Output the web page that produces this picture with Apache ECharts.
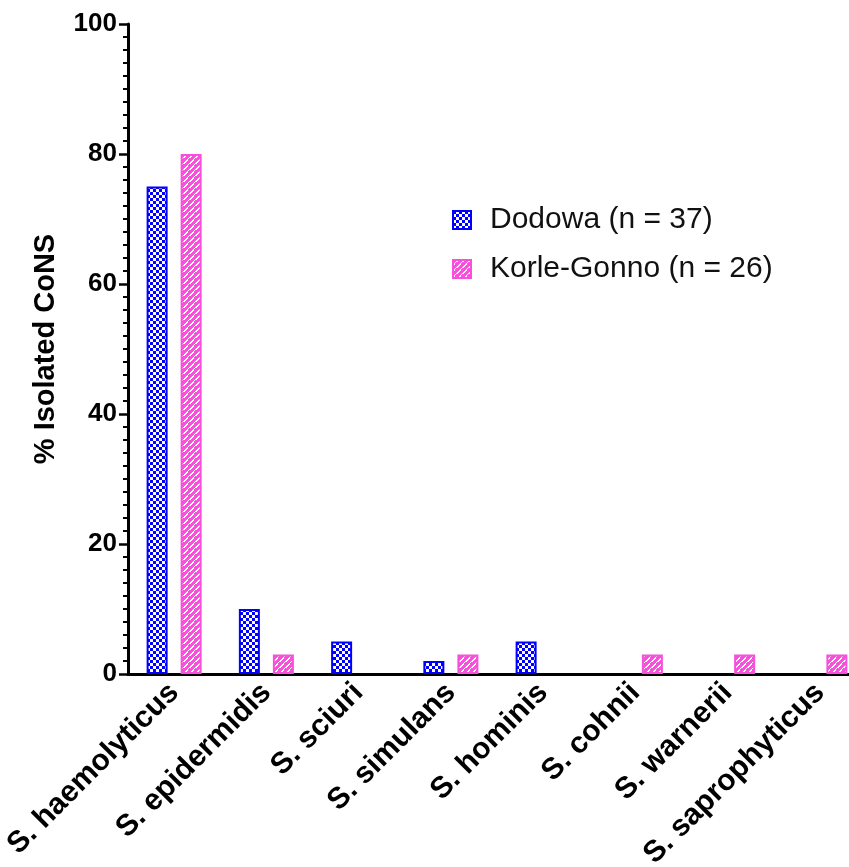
<!DOCTYPE html>
<html>
<head>
<meta charset="utf-8">
<script src="https://cdn.jsdelivr.net/npm/echarts@6/dist/echarts.min.js"></script>
<style>
  html, body { margin: 0; padding: 0; background: #fff; }
  #chart { width: 849px; height: 867px; }
</style>
</head>
<body>
<div id="chart"></div>
<script>
// Species of coagulase-negative staphylococci
const species = ['S. haemolyticus', 'S. epidermidis', 'S. sciuri', 'S. simulans',
  'S. hominis', 'S. cohnii', 'S. warnerii', 'S. saprophyticus'];

// Percent of isolated CoNS per site
const dodowa = [75, 10, 5, 2, 5, 0, 0, 0];
const korleGonno = [80, 3, 0, 3, 0, 3, 3, 3];

const seriesNames = ['Dodowa (n = 37)', 'Korle-Gonno (n = 26)'];
const yTicks = [0, 20, 40, 60, 80, 100];

const FONT = '"Liberation Sans", Arial, sans-serif';
const BLUE = '#0000ff';
const PINK = '#f850dc';

// Empty categories get no bar at all
const asBars = arr => arr.map(v => (v === 0 ? '-' : v));

// Checkerboard fill for Dodowa
function checkerPattern() {
  const c = document.createElement('canvas');
  c.width = 6; c.height = 6;
  const g = c.getContext('2d');
  g.fillStyle = '#ffffff';
  g.fillRect(0, 0, 6, 6);
  g.fillStyle = BLUE;
  g.fillRect(0, 0, 3, 3);
  g.fillRect(3, 3, 3, 3);
  return c;
}

// Diagonal dashed hatch fill for Korle-Gonno
function hatchPattern() {
  const c = document.createElement('canvas');
  c.width = 6; c.height = 6;
  const g = c.getContext('2d');
  g.fillStyle = PINK;
  g.fillRect(0, 0, 6, 6);
  g.fillStyle = '#ffffff';
  // short white dashes running up to the right
  g.fillRect(4, 0, 1, 1); g.fillRect(3, 1, 1, 1); g.fillRect(2, 2, 1, 1);
  g.fillRect(1, 3, 1, 1); g.fillRect(0, 4, 1, 1); g.fillRect(5, 5, 1, 1);
  g.fillRect(5, 0, 1, 1); g.fillRect(4, 1, 1, 1);
  g.fillRect(1, 4, 1, 1); g.fillRect(0, 5, 1, 1);
  return c;
}

const chart = echarts.init(document.getElementById('chart'), null, { renderer: 'canvas' });

chart.setOption({
  animation: false,
  backgroundColor: '#ffffff',
  textStyle: { fontFamily: FONT },
  legend: {
    orient: 'vertical',
    left: 447,
    top: 200,
    itemWidth: 18,
    itemHeight: 18,
    itemGap: 19,
    icon: 'rect',
    textStyle: { fontFamily: FONT, fontSize: 30, color: '#111111', padding: [0, 0, 0, 14] },
    data: seriesNames
  },
  grid: {
    left: 128, right: -17, top: 24, bottom: 193,
    containLabel: false,
    outerBoundsMode: 'none'
  },
  xAxis: {
    type: 'category',
    data: species,
    axisLine: { lineStyle: { color: '#000', width: 3 } },
    axisTick: { alignWithLabel: true, length: 9, lineStyle: { color: '#000', width: 2.5 } },
    axisLabel: {
      rotate: 45,
      margin: 14,
      interval: 0,
      fontFamily: FONT,
      fontSize: 30,
      fontWeight: 'bold',
      color: '#000'
    }
  },
  yAxis: {
    type: 'value',
    min: yTicks[0],
    max: yTicks[yTicks.length - 1],
    interval: 20,
    name: '% Isolated CoNS',
    nameLocation: 'middle',
    nameGap: 68,
    nameTextStyle: { fontFamily: FONT, fontSize: 29, fontWeight: 'bold', color: '#000' },
    axisLine: { show: true, lineStyle: { color: '#000', width: 3 } },
    axisTick: { show: true, length: 9, lineStyle: { color: '#000', width: 2.5 } },
    minorTick: { show: true, splitNumber: 10, length: 5, lineStyle: { color: '#000', width: 2 } },
    splitLine: { show: false },
    axisLabel: {
      margin: 11,
      fontFamily: FONT,
      fontSize: 26,
      fontWeight: 'bold',
      color: '#000'
    }
  },
  series: [
    {
      name: seriesNames[0],
      type: 'bar',
      data: asBars(dodowa),
      barWidth: 21,
      barGap: '62%',
      itemStyle: {
        color: { image: checkerPattern(), repeat: 'repeat' },
        borderColor: BLUE,
        borderWidth: 2
      }
    },
    {
      name: seriesNames[1],
      type: 'bar',
      data: asBars(korleGonno),
      barWidth: 21,
      itemStyle: {
        color: { image: hatchPattern(), repeat: 'repeat' },
        borderColor: PINK,
        borderWidth: 2
      }
    }
  ]
});
</script>
</body>
</html>
